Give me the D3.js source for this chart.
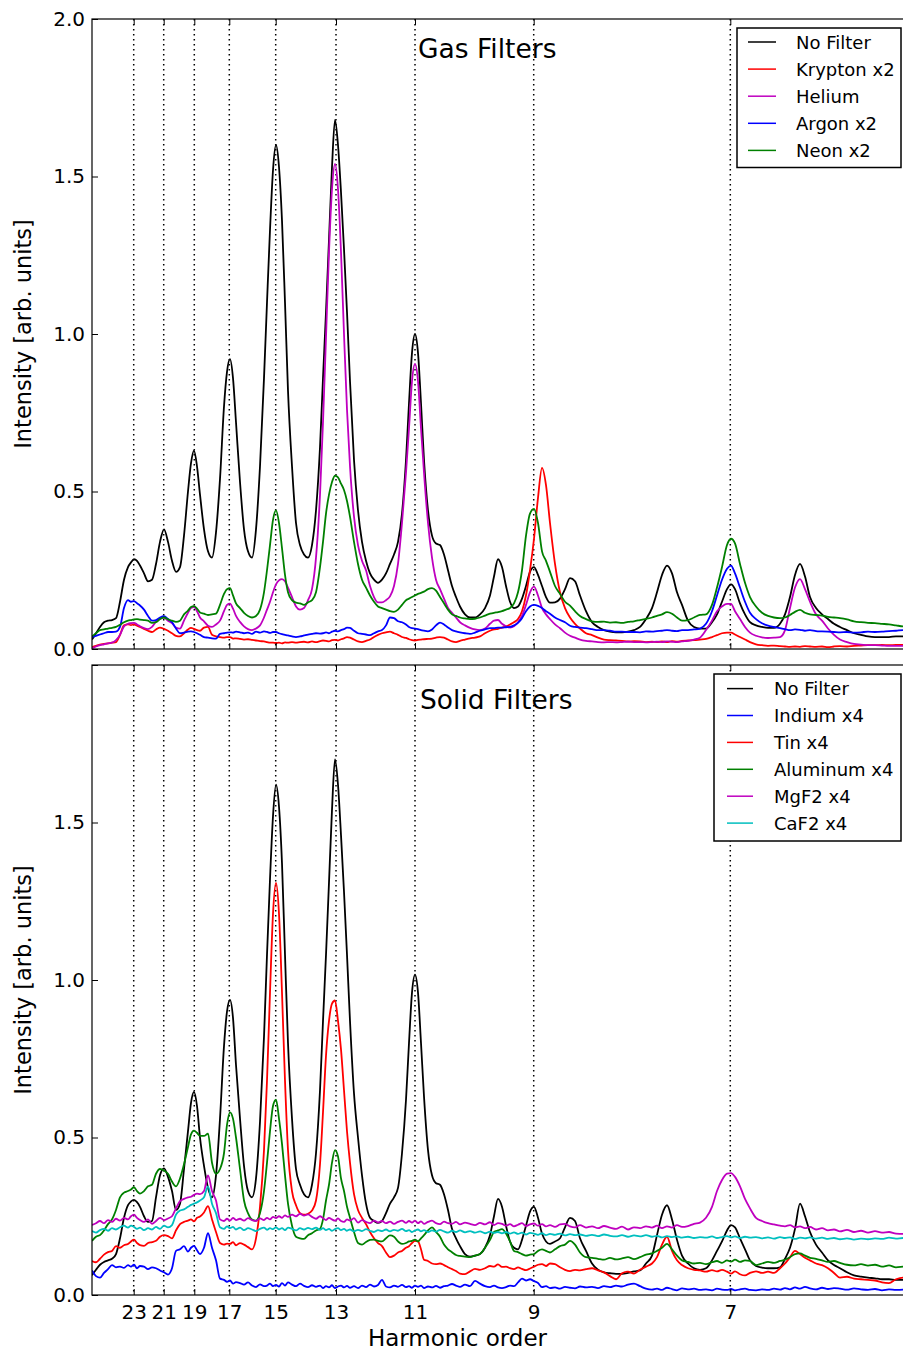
<!DOCTYPE html>
<html>
<head>
<meta charset="utf-8">
<script src="https://cdnjs.cloudflare.com/ajax/libs/d3/7.8.5/d3.min.js"></script>
<style>
body { margin: 0; background: #fff; }
svg text { font-family: "DejaVu Sans", sans-serif; fill: #000; }
</style>
</head>
<body>
<div id="chart"></div>
<script>
// detector channel of every sample (shared by all spectra)
const channel = [
 0,4,8,12,16,20,24,28,32,36,
 39,42,45,48,52,56,60,64,68,72,
 76,80,84,88,92,96,99,102,105,108,
 112,116,120,124,128,132,135,138,141,144,
 148,152,156,160,164,168,172,175,178,181,
 184,187,190,193,196,200,204,208,212,216,
 220,224,228,231,234,237,240,243,246,249,
 252,255,258,262,266,270,274,278,282,286,
 290,294,298,302,306,310,314,317,320,323,
 326,329,332,336,340,344,348,352,356,360,
 364,368,373,378,383,388,393,398,402,406,
 410,414,418,422,426,430,434,438,442,446,
 450,454,458,463,468,473,478,483,488,494,
 500,506,512,518,524,530,536,542,548,554,
 560,565,570,575,580,585,590,596,602,608,
 614,620,625,630,635,639,643,648,653,658,
 664,670,676,682,688,693,698,703,708,713,
 718,724,730,736,742,748,755,762,769,776,
 783,790,797,804,811,819
];

const harmonicChannel = [41.7, 71.7, 102.3, 137.3, 183.7, 244, 323, 441.7, 638.3];
const harmonicLabel = ["23", "21", "19", "17", "15", "13", "11", "9", "7"];
const yTicks = [0, 0.5, 1.0, 1.5, 2.0];

// ---- gas filters ----
const gasNoFilter = [
 0.03,0.05,0.07,0.085,0.09,0.092,0.098,0.15,0.22,0.26,
 0.275,0.285,0.28,0.265,0.24,0.215,0.22,0.27,0.34,0.38,
 0.34,0.28,0.245,0.26,0.36,0.50,0.59,0.63,0.58,0.49,
 0.38,0.31,0.29,0.37,0.54,0.77,0.88,0.92,0.86,0.72,
 0.53,0.38,0.31,0.29,0.38,0.58,0.86,1.10,1.33,1.52,
 1.60,1.53,1.36,1.10,0.82,0.58,0.40,0.33,0.30,0.29,
 0.33,0.44,0.64,0.86,1.07,1.30,1.53,1.68,1.60,1.45,
 1.27,1.07,0.85,0.60,0.44,0.34,0.28,0.24,0.22,0.21,
 0.22,0.24,0.27,0.30,0.34,0.43,0.60,0.78,0.94,1.00,
 0.94,0.78,0.60,0.44,0.36,0.335,0.33,0.30,0.25,0.20,
 0.165,0.135,0.11,0.10,0.10,0.11,0.13,0.17,0.23,0.285,
 0.26,0.20,0.15,0.13,0.135,0.16,0.20,0.245,0.26,0.235,
 0.20,0.165,0.147,0.148,0.16,0.19,0.225,0.215,0.17,0.12,
 0.085,0.07,0.06,0.055,0.053,0.053,0.055,0.06,0.07,0.095,
 0.13,0.18,0.235,0.265,0.24,0.18,0.14,0.09,0.07,0.065,
 0.065,0.085,0.11,0.15,0.19,0.205,0.19,0.145,0.11,0.085,
 0.075,0.07,0.067,0.067,0.08,0.11,0.165,0.235,0.27,0.23,
 0.165,0.13,0.11,0.095,0.08,0.07,0.06,0.05,0.045,0.04,
 0.038,0.038,0.038,0.04,0.04,0.04
];
const gasKrypton = [
 0.006,0.01,0.014,0.016,0.018,0.02,0.022,0.045,0.075,0.078,
 0.076,0.078,0.074,0.07,0.064,0.058,0.054,0.062,0.068,0.064,
 0.058,0.05,0.042,0.04,0.05,0.062,0.067,0.064,0.06,0.058,
 0.068,0.07,0.045,0.04,0.038,0.036,0.038,0.038,0.033,0.034,
 0.032,0.03,0.031,0.029,0.027,0.025,0.024,0.022,0.02,0.02,
 0.019,0.02,0.018,0.021,0.02,0.022,0.02,0.022,0.023,0.021,
 0.024,0.022,0.025,0.027,0.026,0.024,0.028,0.029,0.027,0.031,
 0.034,0.038,0.036,0.03,0.024,0.022,0.026,0.03,0.038,0.045,
 0.05,0.053,0.055,0.05,0.045,0.038,0.035,0.031,0.028,0.027,
 0.029,0.03,0.031,0.032,0.033,0.036,0.038,0.036,0.03,0.024,
 0.022,0.026,0.03,0.034,0.036,0.04,0.05,0.058,0.062,0.064,
 0.068,0.072,0.078,0.085,0.095,0.12,0.17,0.25,0.35,0.48,
 0.575,0.52,0.40,0.27,0.18,0.13,0.10,0.08,0.065,0.05,
 0.044,0.036,0.03,0.028,0.027,0.026,0.024,0.025,0.024,0.022,
 0.023,0.022,0.024,0.022,0.025,0.023,0.026,0.027,0.028,0.03,
 0.032,0.038,0.044,0.05,0.052,0.052,0.046,0.038,0.03,0.022,
 0.015,0.012,0.01,0.011,0.009,0.008,0.007,0.008,0.007,0.009,
 0.008,0.007,0.008,0.006,0.008,0.009,0.008,0.01,0.011,0.012,
 0.012,0.013,0.012,0.013,0.013,0.013
];
const gasHelium = [
 0.002,0.008,0.012,0.015,0.018,0.02,0.028,0.045,0.072,0.08,
 0.082,0.083,0.078,0.072,0.066,0.063,0.07,0.086,0.095,0.1,
 0.09,0.082,0.068,0.065,0.09,0.115,0.13,0.133,0.12,0.1,
 0.088,0.074,0.07,0.078,0.09,0.12,0.14,0.144,0.128,0.105,
 0.086,0.072,0.063,0.06,0.065,0.075,0.1,0.125,0.15,0.18,
 0.205,0.218,0.222,0.215,0.195,0.165,0.135,0.125,0.13,0.155,
 0.19,0.29,0.49,0.72,0.99,1.26,1.46,1.54,1.46,1.26,
 1.0,0.76,0.58,0.42,0.33,0.28,0.25,0.2,0.165,0.148,
 0.148,0.155,0.167,0.2,0.27,0.40,0.56,0.70,0.85,0.905,
 0.85,0.70,0.56,0.40,0.29,0.22,0.19,0.16,0.13,0.115,
 0.10,0.085,0.075,0.067,0.062,0.06,0.065,0.08,0.09,0.092,
 0.08,0.072,0.068,0.072,0.085,0.105,0.14,0.18,0.198,0.17,
 0.13,0.11,0.095,0.078,0.066,0.052,0.042,0.036,0.03,0.026,
 0.024,0.022,0.021,0.022,0.021,0.022,0.023,0.022,0.022,0.021,
 0.022,0.023,0.022,0.024,0.023,0.022,0.024,0.026,0.03,0.036,
 0.06,0.09,0.12,0.135,0.143,0.143,0.12,0.095,0.07,0.052,
 0.042,0.037,0.035,0.036,0.038,0.06,0.13,0.195,0.222,0.19,
 0.15,0.11,0.09,0.065,0.045,0.03,0.022,0.016,0.014,0.012,
 0.012,0.011,0.01,0.01,0.01,0.01
];
const gasArgon = [
 0.038,0.042,0.046,0.05,0.054,0.054,0.055,0.07,0.13,0.155,
 0.15,0.152,0.145,0.138,0.125,0.105,0.09,0.092,0.1,0.104,
 0.095,0.085,0.065,0.05,0.052,0.055,0.056,0.054,0.05,0.045,
 0.038,0.036,0.034,0.033,0.048,0.05,0.052,0.053,0.052,0.055,
 0.053,0.05,0.052,0.048,0.055,0.052,0.056,0.054,0.051,0.054,
 0.054,0.05,0.047,0.045,0.043,0.04,0.038,0.04,0.043,0.046,
 0.048,0.05,0.049,0.05,0.053,0.05,0.055,0.058,0.056,0.06,
 0.063,0.068,0.067,0.058,0.05,0.048,0.046,0.044,0.05,0.056,
 0.06,0.075,0.1,0.098,0.088,0.085,0.078,0.07,0.066,0.065,
 0.063,0.06,0.058,0.056,0.062,0.075,0.084,0.078,0.068,0.06,
 0.056,0.053,0.05,0.048,0.052,0.058,0.062,0.066,0.066,0.068,
 0.068,0.069,0.07,0.075,0.083,0.098,0.12,0.135,0.14,0.137,
 0.13,0.12,0.112,0.1,0.092,0.085,0.074,0.07,0.068,0.066,
 0.063,0.06,0.06,0.058,0.055,0.055,0.054,0.054,0.053,0.056,
 0.055,0.057,0.058,0.06,0.058,0.057,0.06,0.06,0.062,0.065,
 0.08,0.12,0.17,0.22,0.255,0.265,0.24,0.195,0.15,0.115,
 0.095,0.082,0.074,0.07,0.066,0.063,0.06,0.062,0.061,0.058,
 0.06,0.057,0.056,0.055,0.054,0.053,0.054,0.052,0.053,0.055,
 0.054,0.055,0.057,0.058,0.06,0.06
];
const gasNeon = [
 0.04,0.05,0.06,0.062,0.065,0.067,0.07,0.077,0.085,0.09,
 0.092,0.094,0.095,0.093,0.092,0.09,0.083,0.085,0.095,0.1,
 0.094,0.09,0.086,0.09,0.11,0.122,0.133,0.136,0.128,0.116,
 0.112,0.108,0.11,0.112,0.14,0.175,0.19,0.193,0.17,0.145,
 0.13,0.115,0.105,0.1,0.105,0.125,0.18,0.25,0.33,0.41,
 0.44,0.40,0.32,0.235,0.18,0.155,0.147,0.145,0.14,0.148,
 0.155,0.18,0.26,0.34,0.43,0.49,0.53,0.55,0.545,0.525,
 0.505,0.47,0.42,0.34,0.27,0.22,0.195,0.17,0.15,0.135,
 0.13,0.125,0.12,0.118,0.125,0.14,0.155,0.16,0.165,0.17,
 0.175,0.178,0.182,0.19,0.193,0.185,0.165,0.145,0.125,0.11,
 0.105,0.1,0.097,0.095,0.096,0.1,0.106,0.112,0.115,0.117,
 0.12,0.125,0.13,0.145,0.18,0.25,0.36,0.43,0.445,0.40,
 0.31,0.28,0.245,0.2,0.175,0.15,0.138,0.12,0.105,0.095,
 0.088,0.086,0.087,0.084,0.085,0.083,0.086,0.088,0.092,0.096,
 0.1,0.105,0.11,0.117,0.112,0.1,0.09,0.092,0.1,0.108,
 0.11,0.14,0.195,0.26,0.33,0.35,0.335,0.27,0.21,0.165,
 0.135,0.115,0.105,0.1,0.098,0.1,0.108,0.118,0.124,0.115,
 0.11,0.108,0.106,0.102,0.1,0.098,0.094,0.088,0.085,0.083,
 0.082,0.08,0.078,0.075,0.072,0.072
];

// ---- solid filters ----
const solidNoFilter = [
 0.063,0.08,0.096,0.105,0.11,0.115,0.13,0.18,0.245,0.285,
 0.297,0.302,0.295,0.28,0.25,0.232,0.235,0.31,0.38,0.402,
 0.375,0.33,0.27,0.29,0.40,0.52,0.61,0.645,0.60,0.50,
 0.41,0.34,0.31,0.38,0.56,0.79,0.90,0.937,0.88,0.73,
 0.56,0.41,0.33,0.31,0.37,0.55,0.82,1.08,1.32,1.52,
 1.62,1.55,1.37,1.08,0.80,0.56,0.40,0.35,0.32,0.31,
 0.35,0.45,0.65,0.87,1.08,1.31,1.54,1.70,1.62,1.46,
 1.28,1.08,0.87,0.64,0.50,0.38,0.29,0.245,0.235,0.229,
 0.235,0.26,0.29,0.31,0.34,0.45,0.62,0.80,0.96,1.017,
 0.96,0.80,0.63,0.46,0.38,0.355,0.35,0.32,0.27,0.21,
 0.18,0.155,0.13,0.122,0.125,0.13,0.15,0.19,0.25,0.305,
 0.28,0.22,0.17,0.15,0.145,0.175,0.22,0.265,0.28,0.245,
 0.195,0.17,0.162,0.17,0.18,0.215,0.245,0.235,0.18,0.14,
 0.10,0.08,0.072,0.069,0.067,0.067,0.07,0.075,0.078,0.1,
 0.125,0.19,0.255,0.285,0.24,0.175,0.125,0.1,0.085,0.08,
 0.085,0.11,0.14,0.17,0.205,0.222,0.215,0.18,0.145,0.11,
 0.092,0.087,0.085,0.085,0.088,0.115,0.15,0.21,0.29,0.25,
 0.2,0.16,0.135,0.11,0.095,0.085,0.072,0.062,0.058,0.055,
 0.053,0.05,0.05,0.048,0.048,0.048
];
const solidIndium = [
 0.078,0.06,0.055,0.07,0.082,0.095,0.088,0.09,0.086,0.095,
 0.09,0.096,0.085,0.092,0.09,0.082,0.088,0.085,0.078,0.072,
 0.065,0.085,0.14,0.145,0.155,0.138,0.15,0.156,0.142,0.13,
 0.15,0.196,0.15,0.11,0.052,0.048,0.042,0.046,0.036,0.041,
 0.038,0.033,0.04,0.03,0.025,0.034,0.028,0.03,0.036,0.028,
 0.032,0.027,0.038,0.03,0.04,0.033,0.028,0.036,0.029,0.025,
 0.031,0.026,0.03,0.022,0.028,0.024,0.031,0.022,0.027,0.03,
 0.024,0.029,0.023,0.028,0.022,0.03,0.025,0.033,0.027,0.032,
 0.048,0.027,0.024,0.03,0.026,0.032,0.025,0.028,0.023,0.03,
 0.026,0.03,0.022,0.027,0.024,0.029,0.023,0.028,0.03,0.035,
 0.03,0.026,0.033,0.028,0.045,0.036,0.028,0.025,0.03,0.024,
 0.022,0.025,0.03,0.028,0.04,0.052,0.046,0.05,0.044,0.038,
 0.025,0.028,0.022,0.024,0.02,0.026,0.023,0.021,0.027,0.024,
 0.026,0.022,0.028,0.025,0.03,0.027,0.033,0.036,0.028,0.02,
 0.017,0.02,0.016,0.023,0.019,0.015,0.021,0.018,0.02,0.016,
 0.018,0.015,0.02,0.017,0.016,0.019,0.015,0.018,0.02,0.016,
 0.015,0.018,0.016,0.02,0.017,0.022,0.018,0.024,0.02,0.026,
 0.021,0.018,0.023,0.019,0.022,0.02,0.017,0.021,0.018,0.016,
 0.019,0.015,0.018,0.016,0.017,0.016
];
const solidTin = [
 0.108,0.104,0.115,0.128,0.136,0.14,0.155,0.15,0.158,0.162,
 0.17,0.176,0.165,0.158,0.156,0.165,0.168,0.172,0.185,0.19,
 0.187,0.18,0.205,0.225,0.232,0.236,0.24,0.234,0.245,0.249,
 0.262,0.282,0.24,0.2,0.165,0.16,0.163,0.162,0.168,0.158,
 0.165,0.16,0.152,0.145,0.18,0.28,0.46,0.68,0.96,1.21,
 1.308,1.21,0.96,0.68,0.46,0.33,0.285,0.26,0.255,0.258,
 0.268,0.30,0.415,0.58,0.76,0.87,0.925,0.935,0.87,0.78,
 0.65,0.52,0.42,0.32,0.27,0.245,0.225,0.2,0.18,0.165,
 0.155,0.135,0.12,0.125,0.135,0.14,0.15,0.155,0.165,0.172,
 0.17,0.145,0.112,0.108,0.1,0.098,0.1,0.095,0.088,0.082,
 0.076,0.068,0.066,0.075,0.083,0.08,0.085,0.092,0.09,0.097,
 0.089,0.09,0.085,0.082,0.088,0.083,0.079,0.084,0.09,0.096,
 0.098,0.092,0.1,0.098,0.088,0.08,0.076,0.08,0.078,0.082,
 0.085,0.078,0.072,0.06,0.05,0.069,0.074,0.068,0.08,0.09,
 0.1,0.12,0.16,0.185,0.14,0.11,0.095,0.085,0.08,0.078,
 0.074,0.079,0.075,0.08,0.074,0.068,0.075,0.066,0.062,0.07,
 0.075,0.07,0.074,0.07,0.085,0.1,0.12,0.14,0.13,0.118,
 0.11,0.1,0.095,0.085,0.07,0.055,0.058,0.052,0.05,0.048,
 0.046,0.04,0.038,0.05,0.055,0.052
];
const solidAluminum = [
 0.172,0.185,0.19,0.205,0.225,0.24,0.27,0.31,0.325,0.33,
 0.335,0.342,0.33,0.322,0.33,0.345,0.35,0.385,0.4,0.395,
 0.385,0.36,0.345,0.37,0.415,0.47,0.51,0.522,0.515,0.505,
 0.505,0.512,0.42,0.385,0.4,0.45,0.54,0.58,0.56,0.5,
 0.4,0.3,0.26,0.24,0.236,0.26,0.33,0.42,0.52,0.6,
 0.62,0.56,0.48,0.38,0.29,0.22,0.185,0.18,0.178,0.19,
 0.196,0.205,0.21,0.24,0.3,0.35,0.42,0.46,0.44,0.37,
 0.33,0.28,0.245,0.2,0.165,0.16,0.168,0.175,0.176,0.172,
 0.17,0.18,0.189,0.185,0.17,0.162,0.165,0.17,0.172,0.176,
 0.17,0.18,0.19,0.205,0.215,0.2,0.185,0.16,0.145,0.136,
 0.127,0.124,0.122,0.12,0.125,0.13,0.15,0.175,0.2,0.205,
 0.209,0.195,0.17,0.14,0.136,0.13,0.125,0.128,0.13,0.14,
 0.145,0.14,0.135,0.145,0.155,0.16,0.172,0.16,0.135,0.12,
 0.118,0.115,0.112,0.118,0.113,0.116,0.12,0.114,0.12,0.128,
 0.132,0.14,0.15,0.162,0.145,0.125,0.11,0.105,0.1,0.102,
 0.098,0.104,0.108,0.102,0.11,0.106,0.112,0.105,0.11,0.108,
 0.095,0.1,0.105,0.102,0.108,0.112,0.12,0.13,0.132,0.125,
 0.118,0.115,0.11,0.105,0.108,0.102,0.096,0.094,0.098,0.093,
 0.096,0.09,0.094,0.088,0.09,0.092
];
const solidMgF2 = [
 0.222,0.228,0.235,0.228,0.238,0.232,0.242,0.236,0.245,0.24,
 0.25,0.255,0.245,0.238,0.232,0.24,0.226,0.235,0.245,0.238,
 0.243,0.25,0.275,0.298,0.305,0.31,0.312,0.318,0.322,0.32,
 0.33,0.38,0.33,0.3,0.24,0.235,0.242,0.236,0.245,0.238,
 0.242,0.236,0.244,0.238,0.235,0.243,0.238,0.245,0.24,0.248,
 0.244,0.25,0.245,0.253,0.248,0.255,0.25,0.258,0.252,0.256,
 0.248,0.242,0.25,0.244,0.238,0.245,0.24,0.236,0.243,0.235,
 0.232,0.24,0.236,0.244,0.23,0.238,0.232,0.228,0.236,0.23,
 0.235,0.228,0.233,0.226,0.232,0.236,0.229,0.235,0.23,0.236,
 0.228,0.234,0.226,0.232,0.236,0.228,0.225,0.233,0.228,0.226,
 0.232,0.224,0.23,0.226,0.222,0.229,0.224,0.231,0.222,0.228,
 0.226,0.22,0.225,0.218,0.223,0.228,0.219,0.224,0.227,0.22,
 0.225,0.218,0.222,0.216,0.224,0.226,0.218,0.215,0.222,0.214,
 0.218,0.212,0.219,0.214,0.21,0.217,0.208,0.215,0.212,0.218,
 0.214,0.22,0.212,0.218,0.214,0.222,0.216,0.219,0.226,0.23,
 0.245,0.28,0.33,0.365,0.385,0.387,0.375,0.345,0.305,0.275,
 0.245,0.235,0.228,0.224,0.22,0.218,0.222,0.215,0.218,0.212,
 0.216,0.208,0.212,0.205,0.208,0.202,0.207,0.2,0.204,0.198,
 0.203,0.198,0.2,0.195,0.194,0.196
];
const solidCaF2 = [
 0.203,0.198,0.206,0.21,0.204,0.212,0.208,0.215,0.22,0.214,
 0.22,0.216,0.21,0.214,0.206,0.212,0.208,0.216,0.21,0.22,
 0.215,0.222,0.255,0.268,0.272,0.28,0.286,0.29,0.294,0.3,
 0.31,0.345,0.29,0.26,0.215,0.21,0.218,0.212,0.216,0.208,
 0.214,0.206,0.212,0.208,0.203,0.21,0.214,0.207,0.212,0.209,
 0.215,0.208,0.212,0.206,0.214,0.21,0.205,0.212,0.208,0.213,
 0.209,0.214,0.207,0.212,0.206,0.21,0.204,0.209,0.212,0.206,
 0.21,0.204,0.208,0.202,0.207,0.203,0.209,0.204,0.2,0.206,
 0.203,0.208,0.202,0.207,0.204,0.21,0.203,0.206,0.2,0.205,
 0.208,0.202,0.206,0.2,0.205,0.201,0.207,0.202,0.198,0.204,
 0.2,0.205,0.199,0.203,0.198,0.202,0.196,0.201,0.197,0.2,
 0.196,0.2,0.195,0.199,0.194,0.198,0.192,0.197,0.195,0.191,
 0.196,0.19,0.194,0.191,0.195,0.189,0.193,0.19,0.192,0.188,
 0.191,0.187,0.192,0.188,0.186,0.19,0.185,0.189,0.186,0.19,
 0.185,0.188,0.183,0.187,0.184,0.186,0.182,0.185,0.181,0.184,
 0.182,0.186,0.181,0.184,0.187,0.183,0.186,0.181,0.185,0.182,
 0.184,0.18,0.183,0.179,0.184,0.181,0.183,0.178,0.182,0.18,
 0.183,0.179,0.182,0.178,0.181,0.177,0.18,0.176,0.179,0.177,
 0.18,0.178,0.182,0.179,0.181,0.18
];

const gasNames = ["No Filter", "Krypton x2", "Helium", "Argon x2", "Neon x2"];
const gasColors = ["#000000", "#ff0000", "#bf00bf", "#0000ff", "#008000"];
const solidNames = ["No Filter", "Indium x4", "Tin x4", "Aluminum x4", "MgF2 x4", "CaF2 x4"];
const solidColors = ["#000000", "#0000ff", "#ff0000", "#008000", "#bf00bf", "#00bfbf"];

const gasSeries = [gasNoFilter, gasKrypton, gasHelium, gasArgon, gasNeon]
    .map(function (v, i) { return { name: gasNames[i], color: gasColors[i], values: v }; });
const solidSeries = [solidNoFilter, solidIndium, solidTin, solidAluminum, solidMgF2, solidCaF2]
    .map(function (v, i) { return { name: solidNames[i], color: solidColors[i], values: v }; });

const svg = d3.select("#chart").append("svg")
    .attr("width", 903)
    .attr("height", 1353);
svg.append("rect").attr("width", 903).attr("height", 1353).attr("fill", "#fff");

const plotLeft = 92, plotRight = 911;
const xScale = d3.scaleLinear().domain([0, 819]).range([plotLeft, plotRight]);

function style_axis(g, fontSize)
{
    g.select(".domain").remove();
    g.selectAll(".tick line").attr("stroke", "#000").attr("stroke-width", 1);
    g.selectAll(".tick text")
        .attr("fill", "#000")
        .style("font-size", fontSize + "px")
        .style("font-family", "DejaVu Sans, sans-serif");
}

function draw_panel(id, bottom, top, series, showLabels)
{
    const yScale = d3.scaleLinear().domain([0, 2]).range([bottom, top]);

    svg.append("clipPath").attr("id", "clip-" + id)
        .append("rect")
        .attr("x", plotLeft).attr("y", top)
        .attr("width", plotRight - plotLeft).attr("height", bottom - top);

    const canvas = svg.append("g").attr("clip-path", "url(#clip-" + id + ")");

    // dotted harmonic markers
    canvas.append("g").selectAll("line")
        .data(harmonicChannel)
        .enter().append("line")
        .attr("x1", function (d) { return xScale(d); })
        .attr("x2", function (d) { return xScale(d); })
        .attr("y1", top)
        .attr("y2", bottom)
        .attr("stroke", "#000")
        .attr("stroke-width", 1.5)
        .attr("stroke-dasharray", "1.5,3.5");

    const line = d3.line()
        .x(function (d, i) { return xScale(channel[i]); })
        .y(function (d) { return yScale(d); })
        .curve(d3.curveMonotoneX);

    canvas.append("g").selectAll("path")
        .data(series)
        .enter().append("path")
        .attr("d", function (d) { return line(d.values); })
        .attr("fill", "none")
        .attr("stroke", function (d) { return d.color; })
        .attr("stroke-width", 1.8)
        .attr("stroke-linejoin", "round");

    // frame
    svg.append("rect")
        .attr("x", plotLeft).attr("y", top)
        .attr("width", plotRight - plotLeft).attr("height", bottom - top)
        .attr("fill", "none")
        .attr("stroke", "#000")
        .attr("stroke-width", 1.2);

    // axes, ticks pointing inwards
    const left = svg.append("g")
        .attr("transform", "translate(" + plotLeft + ",0)")
        .call(d3.axisLeft(yScale).tickValues(yTicks).tickSizeInner(-6).tickSizeOuter(0).tickPadding(7)
            .tickFormat(function (d) { return (!showLabels && d === 2) ? "" : d3.format(".1f")(d); }));
    style_axis(left, 20);

    const bottomAxis = svg.append("g")
        .attr("transform", "translate(0," + bottom + ")")
        .call(d3.axisBottom(xScale).tickValues(harmonicChannel).tickSizeInner(-6).tickSizeOuter(0).tickPadding(10)
            .tickFormat(function (d, i) { return showLabels ? "" : harmonicLabel[i]; }));
    style_axis(bottomAxis, 20);

    const topAxis = svg.append("g")
        .attr("transform", "translate(0," + top + ")")
        .call(d3.axisTop(xScale).tickValues(harmonicChannel).tickSizeInner(-6).tickSizeOuter(0).tickFormat(""));
    style_axis(topAxis, 20);

    // y label
    svg.append("text")
        .attr("transform", "translate(31," + ((top + bottom) / 2) + ") rotate(-90)")
        .style("text-anchor", "middle")
        .style("font-size", "22.5px")
        .text("Intensity [arb. units]");

    return yScale;
}

function chart_title(text, x, y)
{
    svg.append("text")
        .attr("x", x).attr("y", y)
        .style("font-size", "26.5px")
        .text(text);
}

function legend(series, box)
{
    const g = svg.append("g");
    g.append("rect")
        .attr("x", box.x).attr("y", box.y)
        .attr("width", box.w).attr("height", box.h)
        .attr("fill", "#fff")
        .attr("stroke", "#000")
        .attr("stroke-width", 1.5);
    g.selectAll("line")
        .data(series)
        .enter().append("line")
        .attr("x1", box.lineX0).attr("x2", box.lineX1)
        .attr("y1", function (d, i) { return box.row0 + i * box.step; })
        .attr("y2", function (d, i) { return box.row0 + i * box.step; })
        .attr("stroke", function (d) { return d.color; })
        .attr("stroke-width", 1.5);
    g.selectAll("text")
        .data(series)
        .enter().append("text")
        .attr("x", box.textX)
        .attr("y", function (d, i) { return box.row0 + i * box.step + 6.5; })
        .style("font-size", "18px")
        .text(function (d) { return d.name; });
}

draw_panel("gas", 649, 19, gasSeries, true);
draw_panel("solid", 1295, 665, solidSeries, false);

chart_title("Gas Filters", 418, 58);
chart_title("Solid Filters", 420, 709);

legend(gasSeries, { x: 737, y: 28, w: 164, h: 139.5, row0: 42, step: 27.1, lineX0: 748, lineX1: 776, textX: 796 });
legend(solidSeries, { x: 714, y: 674, w: 187, h: 167, row0: 688.6, step: 26.9, lineX0: 727, lineX1: 753, textX: 774 });

svg.append("text")
    .attr("x", 457.5).attr("y", 1346)
    .style("text-anchor", "middle")
    .style("font-size", "23px")
    .text("Harmonic order");
</script>
</body>
</html>
